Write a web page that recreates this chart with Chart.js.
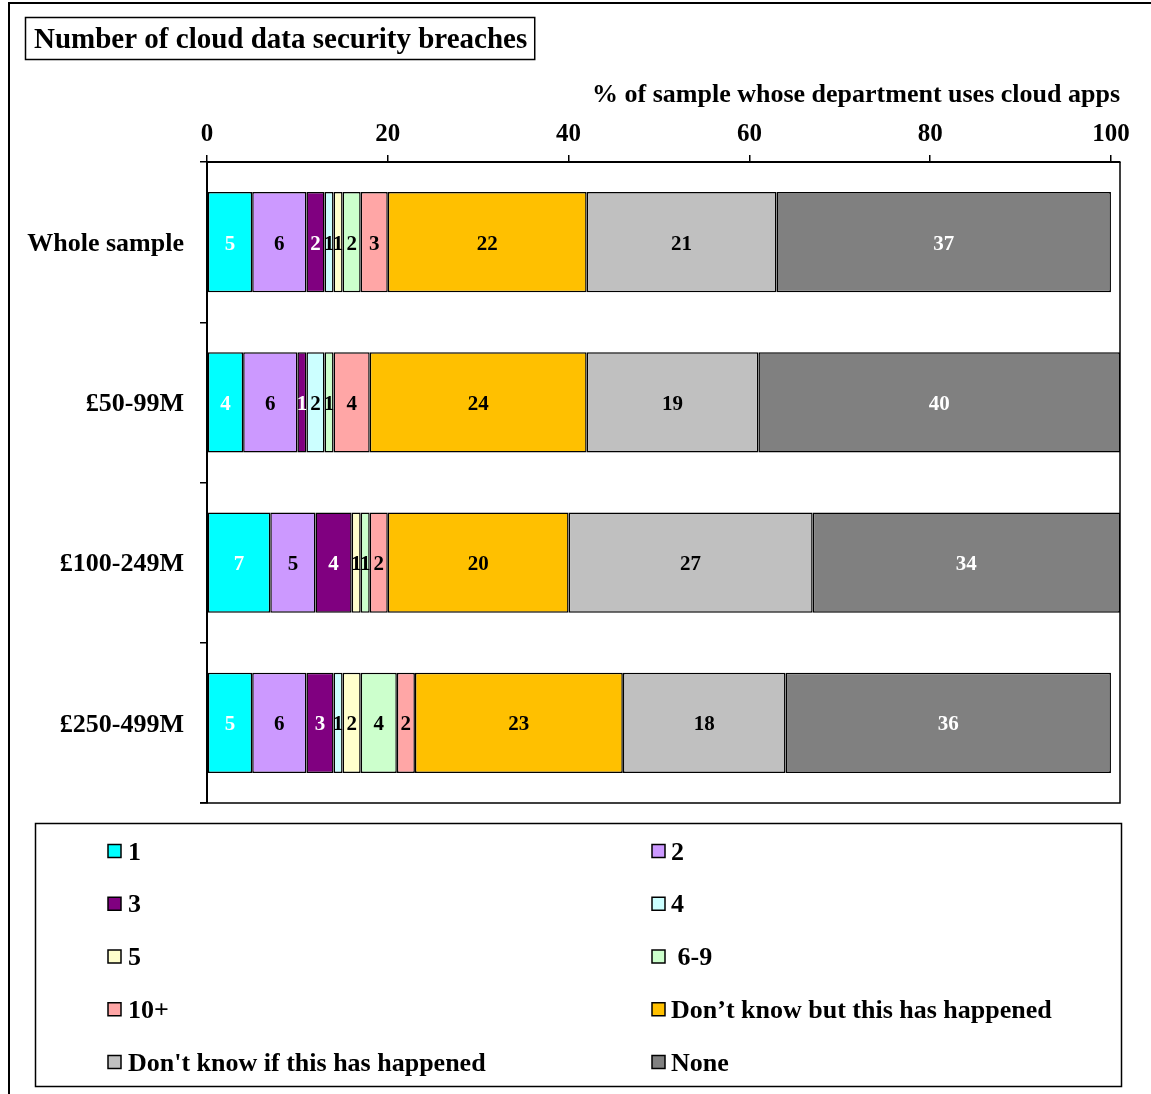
<!DOCTYPE html>
<html>
<head>
<meta charset="utf-8">
<script src="https://cdn.jsdelivr.net/npm/chart.js@4/dist/chart.umd.min.js"></script>
<style>
  html, body { margin: 0; padding: 0; background: #fff; }
  canvas { display: block; }
</style>
</head>
<body>
<canvas id="c" width="1151" height="1094"></canvas>
<script>
// Survey groups (rows of the chart)
const categories = ['Whole sample', '£50-99M', '£100-249M', '£250-499M'];

// Number of breaches – one array per answer, values in % per group
const seriesNames = ['1', '2', '3', '4', '5', ' 6-9', '10+',
  'Don’t know but this has happened', "Don't know if this has happened", 'None'];
const one        = [5, 4, 7, 5];
const two        = [6, 6, 5, 6];
const three      = [2, 1, 4, 3];
const four       = [1, 2, 0, 1];
const five       = [1, 0, 1, 2];
const sixToNine  = [2, 1, 1, 4];
const tenPlus    = [3, 4, 2, 2];
const dkHappened = [22, 24, 20, 23];
const dkIf       = [21, 19, 27, 18];
const none       = [37, 40, 34, 36];

const xTickValues = [0, 20, 40, 60, 80, 100];

const titleText = 'Number of cloud data security breaches';
const axisTitle = '% of sample whose department uses cloud apps';

const seriesValues = [one, two, three, four, five, sixToNine, tenPlus, dkHappened, dkIf, none];
const fills = ['#00FFFF', '#CC99FF', '#800080', '#CCFFFF', '#FFFFCC', '#CCFFCC',
  '#FFA6A6', '#FFC000', '#C0C0C0', '#808080'];
const labelColors = ['#fff', '#000', '#fff', '#000', '#000', '#000', '#000', '#000', '#000', '#fff'];

const SERIF = '"Liberation Serif", "Times New Roman", serif';

const datasets = seriesNames.map((name, i) => ({
  label: name,
  data: seriesValues[i],
  backgroundColor: fills[i],
  borderColor: '#000',
  borderWidth: 1.5,
  borderSkipped: false,
  barPercentage: 1,
  categoryPercentage: 0.625
}));

// Frame, boxed title, value labels, plot border and two-column legend
const decor = {
  id: 'decor',
  beforeDraw(chart) {
    const ctx = chart.ctx;
    ctx.save();
    ctx.fillStyle = '#fff';
    ctx.fillRect(0, 0, chart.width, chart.height);
    ctx.strokeStyle = '#000';
    ctx.lineWidth = 2;
    ctx.beginPath();
    ctx.moveTo(9, chart.height);
    ctx.lineTo(9, 3);
    ctx.lineTo(chart.width, 3);
    ctx.stroke();

    ctx.font = 'bold 29px ' + SERIF;
    const w = ctx.measureText(titleText).width;
    ctx.lineWidth = 1.5;
    ctx.strokeRect(25.5, 17.5, w + 16, 42);
    ctx.fillStyle = '#000';
    ctx.textAlign = 'left';
    ctx.textBaseline = 'middle';
    ctx.fillText(titleText, 34, 41);
    ctx.restore();
  },
  afterDatasetsDraw(chart) {
    const ctx = chart.ctx;
    const area = chart.chartArea;
    ctx.save();
    ctx.font = 'bold 21px ' + SERIF;
    ctx.textAlign = 'center';
    ctx.textBaseline = 'middle';
    chart.data.datasets.forEach((ds, i) => {
      const meta = chart.getDatasetMeta(i);
      meta.data.forEach((bar, j) => {
        const v = ds.data[j];
        if (!v) return;
        const p = bar.getCenterPoint();
        ctx.fillStyle = labelColors[i];
        ctx.fillText(String(v), p.x, p.y + 2);
      });
    });
    ctx.strokeStyle = '#000';
    ctx.lineWidth = 1.5;
    ctx.beginPath();
    ctx.moveTo(area.right, area.top);
    ctx.lineTo(area.right, area.bottom);
    ctx.lineTo(area.left - 7, area.bottom);
    ctx.stroke();
    ctx.restore();
  },
  afterDraw(chart) {
    const ctx = chart.ctx;
    const area = chart.chartArea;
    const boxLeft = 35, boxTop = area.bottom + 20;
    const boxRight = area.right + 1, boxBottom = chart.height - 8;
    ctx.save();
    ctx.strokeStyle = '#000';
    ctx.lineWidth = 1.5;
    ctx.strokeRect(boxLeft + 0.5, boxTop + 0.5, boxRight - boxLeft, boxBottom - boxTop);
    ctx.font = 'bold 26px ' + SERIF;
    ctx.textAlign = 'left';
    ctx.textBaseline = 'middle';
    const colMarker = [108, 652];
    const colText = [128, 671];
    const rowStep = 52.75;
    chart.data.datasets.forEach((ds, i) => {
      const col = i % 2, row = Math.floor(i / 2);
      const y = boxTop + 28 + row * rowStep;
      ctx.fillStyle = ds.backgroundColor;
      ctx.fillRect(colMarker[col], y - 6.5, 13, 13);
      ctx.lineWidth = 1.5;
      ctx.strokeRect(colMarker[col], y - 6.5, 13, 13);
      ctx.fillStyle = '#000';
      ctx.fillText(ds.label, colText[col], y + 2);
    });
    ctx.restore();
  }
};

new Chart(document.getElementById('c'), {
  type: 'bar',
  data: { labels: categories, datasets },
  plugins: [decor],
  options: {
    indexAxis: 'y',
    responsive: false,
    animation: false,
    devicePixelRatio: 1,
    layout: { padding: { top: 0, left: 0, right: 31, bottom: 291 } },
    plugins: {
      legend: { display: false },
      tooltip: { enabled: false },
      title: { display: false }
    },
    scales: {
      x: {
        position: 'top',
        stacked: true,
        min: 0,
        max: 101,
        afterBuildTicks: s => { s.ticks = xTickValues.map(v => ({ value: v })); },
        afterFit: s => { s.height = 162; },
        ticks: {
          font: { family: SERIF, size: 25, weight: 'bold' },
          color: '#000',
          padding: 5,
          maxRotation: 0,
          autoSkip: false
        },
        grid: { drawOnChartArea: false, tickLength: 7, color: '#000', lineWidth: 1.5 },
        border: { color: '#000', width: 2 },
        title: {
          display: true,
          text: axisTitle,
          align: 'end',
          color: '#000',
          font: { family: SERIF, size: 26, weight: 'bold' },
          padding: { top: 80, bottom: 0 }
        }
      },
      y: {
        stacked: true,
        afterFit: s => { s.width = 207; },
        ticks: {
          font: { family: SERIF, size: 26, weight: 'bold' },
          color: '#000',
          padding: 16,
          labelOffset: 2
        },
        grid: { drawOnChartArea: false, tickLength: 7, color: '#000', lineWidth: 1.5 },
        border: { color: '#000', width: 2 }
      }
    }
  }
});
</script>
</body>
</html>
